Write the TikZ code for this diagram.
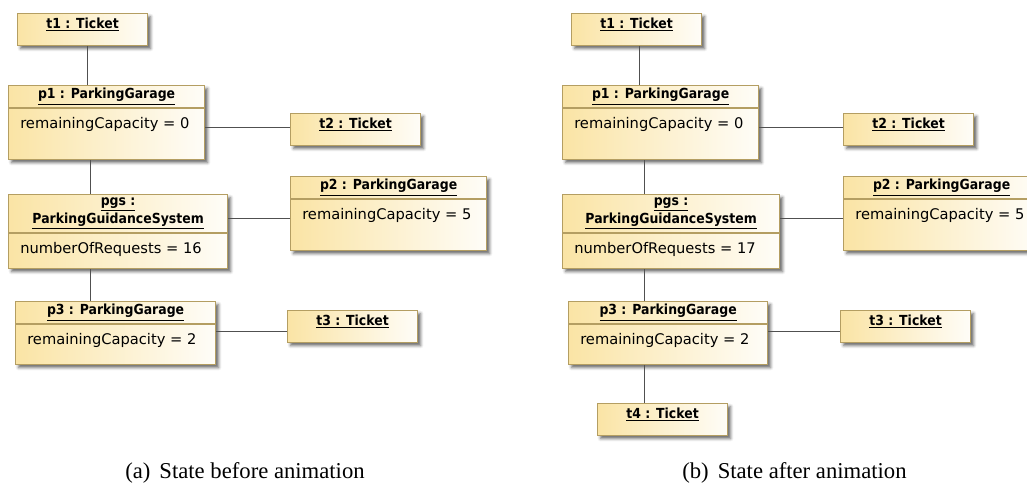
\documentclass[tikz,border=0pt]{standalone}
\usepackage{fontspec}
\setmainfont{DejaVu Sans}
\newfontfamily\headfont[FakeStretch=0.9]{DejaVu Sans}
\newfontfamily\capfont{Liberation Serif}
\usetikzlibrary{calc,shadows.blur}
\definecolor{objfill}{RGB}{250,228,165}
\definecolor{objedge}{RGB}{180,158,98}
\definecolor{linkgray}{RGB}{80,80,80}
\tikzset{
  objframe/.style={draw=objedge, line width=0.9pt, left color=objfill, right color=objfill!8,
    blur shadow={shadow xshift=2.2pt, shadow yshift=-2.2pt, shadow blur steps=4, shadow opacity=60},
    inner sep=0pt},
  objtitle/.style={font=\headfont\bfseries\fontsize{10.4}{11.25}\selectfont, align=center, inner sep=0pt},
  objattr/.style={font=\fontsize{11}{13}\selectfont, anchor=base west, inner sep=0pt},
  assoc/.style={draw=linkgray, line width=0.8pt},
  caption/.style={font=\capfont\fontsize{17}{20}\selectfont, anchor=base west, inner sep=0pt}
}
% object with a name only
\newcommand\ticketobj[4]{%
  \node[objframe, anchor=north west, minimum width=97.5pt, minimum height=24pt] (#1) at (#2,#3) {};
  \node[objtitle] at ($(#1.north)+(0,11.5)$) {\underline{#4}}
}
% object with name and one attribute
\newcommand\instobj[8]{%
  \node[objframe, anchor=north west, minimum width=#4*0.75pt, minimum height=(#5+#6)*0.75pt] (#1) at (#2,#3) {};
  \node[objtitle] at ($(#1.north)+(0,#5/2)$) {#7};
  \draw[objedge, line width=0.9pt] ($(#1.north west)+(0,#5)$) -- ($(#1.north east)+(0,#5)$);
  \node[objattr] at ($(#1.north west)+(12,#5+20)$) {#8}
}

\begin{document}
\begin{tikzpicture}[x=0.75pt, y=-0.75pt]
  \useasboundingbox (0,0) rectangle (1027,486);
  \clip (0,0) rectangle (1027,486);

  % (a) before
  \begin{scope}[name prefix=a-]
    \ticketobj{t1}{17}{13}{t1 : Ticket};
    \instobj{p1}{8}{85}{196}{23}{51}{\underline{p1 : ParkingGarage}}{remainingCapacity = 0};
    \ticketobj{t2}{290}{113}{t2 : Ticket};
    \instobj{p2}{290}{176}{196}{23}{51}{\underline{p2 : ParkingGarage}}{remainingCapacity = 5};
    \instobj{pgs}{8}{194}{219}{39}{35}{\underline{pgs :}\\\underline{ParkingGuidanceSystem}}{numberOfRequests = 16};
    \instobj{p3}{15}{301}{200}{23}{40}{\underline{p3 : ParkingGarage}}{remainingCapacity = 2};
    \ticketobj{t3}{287}{310}{t3 : Ticket};

    \draw[assoc] ([xshift=3.75pt]t1.south) -- ([xshift=3.75pt]t1.south |- p1.north);
    \draw[assoc] ([yshift=1.5pt]t2.west) -- ([yshift=1.5pt]t2.west -| p1.east);
    \draw[assoc] ([xshift=-12pt]p1.south) -- ([xshift=-12pt]p1.south |- pgs.north);
    \draw[assoc] ([yshift=-3.75pt]p2.west) -- ([yshift=-3.75pt]p2.west -| pgs.east);
    \draw[assoc] ([xshift=-12pt]p1.south |- pgs.south) -- ([xshift=-12pt]p1.south |- p3.north);
    \draw[assoc] ([yshift=-3.75pt]t3.west) -- ([yshift=-3.75pt]t3.west -| p3.east);
  \end{scope}

  % (b) after
  \begin{scope}[name prefix=b-, xshift=415.5pt]
    \ticketobj{t1}{17}{13}{t1 : Ticket};
    \instobj{p1}{8}{85}{196}{23}{51}{\underline{p1 : ParkingGarage}}{remainingCapacity = 0};
    \ticketobj{t2}{289}{113}{t2 : Ticket};
    \instobj{p2}{289}{176}{196}{23}{51}{\underline{p2 : ParkingGarage}}{remainingCapacity = 5};
    \instobj{pgs}{8}{194}{217}{39}{35}{\underline{pgs :}\\\underline{ParkingGuidanceSystem}}{numberOfRequests = 17};
    \instobj{p3}{14}{301}{199}{23}{40}{\underline{p3 : ParkingGarage}}{remainingCapacity = 2};
    \ticketobj{t3}{286}{310}{t3 : Ticket};
    \ticketobj{t4}{43}{403}{t4 : Ticket};

    \draw[assoc] ([xshift=2.25pt]t1.south) -- ([xshift=2.25pt]t1.south |- p1.north);
    \draw[assoc] ([yshift=1.5pt]t2.west) -- ([yshift=1.5pt]t2.west -| p1.east);
    \draw[assoc] ([xshift=-12pt]p1.south) -- ([xshift=-12pt]p1.south |- pgs.north);
    \draw[assoc] ([yshift=-3.75pt]p2.west) -- ([yshift=-3.75pt]p2.west -| pgs.east);
    \draw[assoc] ([xshift=-12pt]p1.south |- pgs.south) -- ([xshift=-12pt]p1.south |- p3.north);
    \draw[assoc] ([yshift=-3.75pt]t3.west) -- ([yshift=-3.75pt]t3.west -| p3.east);
    \draw[assoc] ([xshift=-12pt]p1.south |- p3.south) -- ([xshift=-12pt]p1.south |- t4.north);
  \end{scope}

  % captions
  \node[caption] (capa) at (125,478) {(a)\hspace{0.4em}State before animation};
  \node[caption] (capb) at (682,478) {(b)\hspace{0.4em}State after animation};
\end{tikzpicture}
\end{document}
